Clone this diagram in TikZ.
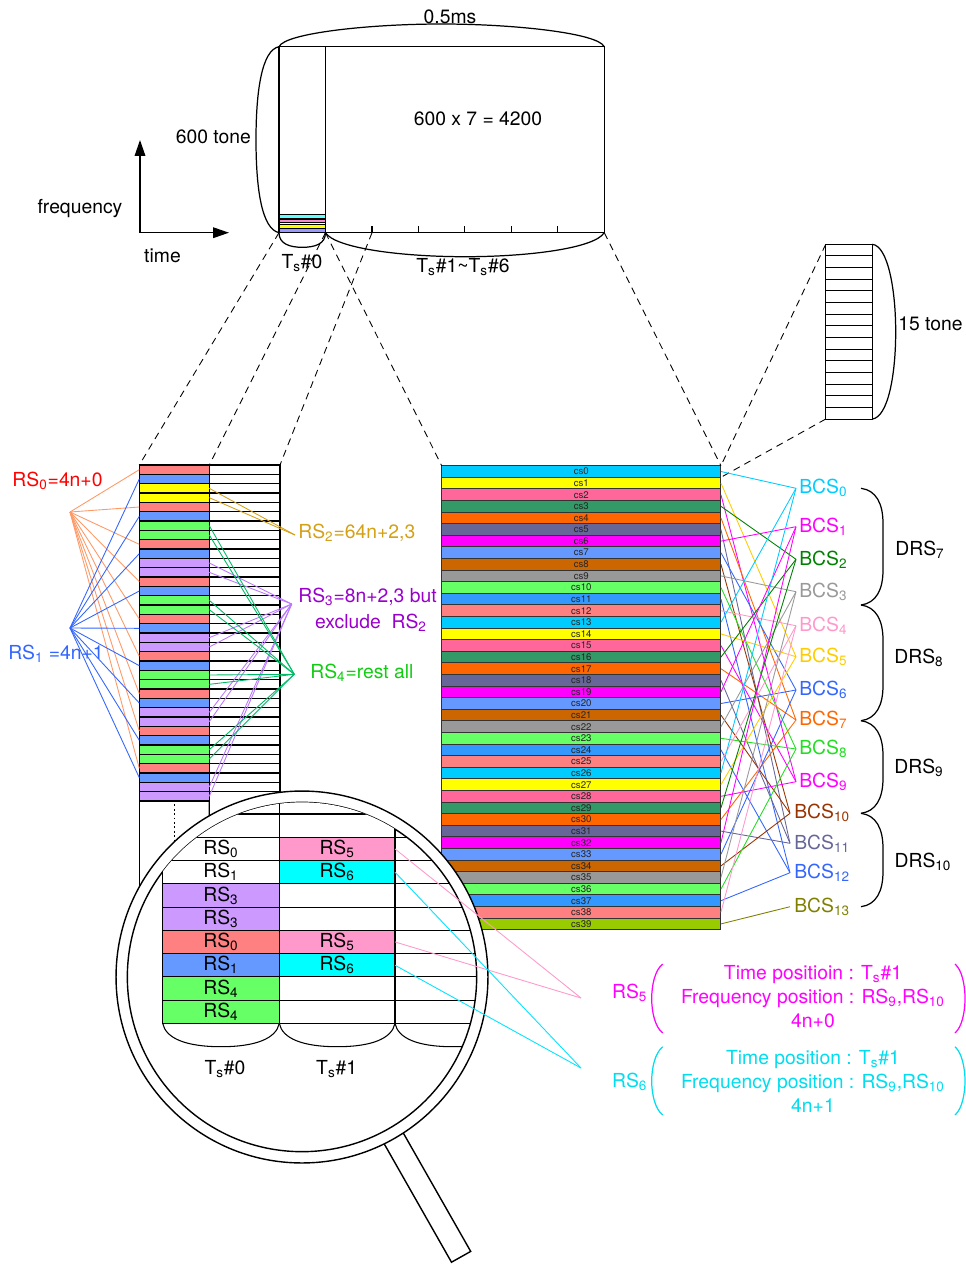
\documentclass[tikz,border=0pt]{standalone}
\usepackage{fontspec}
\setmainfont{TeX Gyre Heros}
\usetikzlibrary{arrows.meta}
\definecolor{sal}{HTML}{FF8080}
\definecolor{blu}{HTML}{6699FF}
\definecolor{yel}{HTML}{FFFF00}
\definecolor{grn}{HTML}{66FF66}
\definecolor{pur}{HTML}{CC99FF}
\definecolor{wht}{HTML}{FFFFFF}
\definecolor{pnk}{HTML}{FF99CC}
\definecolor{cyn}{HTML}{00FFFF}
\definecolor{csc0}{HTML}{00CCFF}
\definecolor{csc1}{HTML}{FFFF00}
\definecolor{csc2}{HTML}{FF6699}
\definecolor{csc3}{HTML}{339966}
\definecolor{csc4}{HTML}{FF6600}
\definecolor{csc5}{HTML}{666699}
\definecolor{csc6}{HTML}{FF00FF}
\definecolor{csc7}{HTML}{6699FF}
\definecolor{csc8}{HTML}{CC6600}
\definecolor{csc9}{HTML}{999999}
\definecolor{csc10}{HTML}{66FF66}
\definecolor{csc11}{HTML}{3399FF}
\definecolor{csc12}{HTML}{FF8080}
\definecolor{csc39}{HTML}{99CC00}
\definecolor{bcc0}{HTML}{00CCFF}
\definecolor{bcc1}{HTML}{FF00FF}
\definecolor{bcc2}{HTML}{008000}
\definecolor{bcc3}{HTML}{999999}
\definecolor{bcc4}{HTML}{FF99CC}
\definecolor{bcc5}{HTML}{FFCC00}
\definecolor{bcc6}{HTML}{3366FF}
\definecolor{bcc7}{HTML}{FF6600}
\definecolor{bcc8}{HTML}{22DD22}
\definecolor{bcc9}{HTML}{FF00FF}
\definecolor{bcc10}{HTML}{993300}
\definecolor{bcc11}{HTML}{666699}
\definecolor{bcc12}{HTML}{3366FF}
\definecolor{bcc13}{HTML}{808000}
\definecolor{rsred}{HTML}{FF0000}
\definecolor{rsblue}{HTML}{3366FF}
\definecolor{rsgold}{HTML}{D4A017}
\definecolor{rspur}{HTML}{9900CC}
\definecolor{rsgrn}{HTML}{11CC11}
\definecolor{fanor}{HTML}{FF9966}
\definecolor{fanpur}{HTML}{BB77FF}
\definecolor{fangrn}{HTML}{00BB66}
\definecolor{dmag}{HTML}{FF00FF}
\definecolor{dcyn}{HTML}{00DDEE}
\begin{document}
\begin{tikzpicture}[x=0.02cm,y=-0.02cm,font=\fontsize{11}{13}\selectfont,
 dashline/.style={dash pattern=on 4pt off 3pt, line width=0.5pt},
 lrow/.style={draw, line width=0.8pt, minimum width=1.4cm, minimum height=0.1866cm, inner sep=0pt, outer sep=0pt, anchor=north west},
 rrow/.style={lrow, minimum width=1.414cm},
 csrow/.style={draw=black!80, line width=0.6pt, minimum width=5.586cm, minimum height=0.232cm, inner sep=0pt, outer sep=0pt, anchor=north west, font=\fontsize{5.5}{6}\selectfont, text=black!85},
 tonerow/.style={draw, line width=0.6pt, minimum width=0.932cm, minimum height=0.233cm, inner sep=0pt, outer sep=0pt, anchor=north west},
 mcell/.style={draw, line width=0.6pt, minimum width=2.332cm, minimum height=0.4652cm, inner sep=0pt, outer sep=0pt, anchor=north west},
 mcell2/.style={mcell, minimum width=2.314cm},
 lbl/.style={inner sep=0pt},
 fan/.style={line width=0.5pt},
 brc/.style={line width=0.7pt}]
\useasboundingbox (0,0) rectangle (966,1265);

% ---------- top frame ----------
\node[draw, line width=0.8pt, minimum width=6.506cm, minimum height=3.72cm, inner sep=0pt, outer sep=0pt, anchor=north west] (frame) at (279,46.7) {};
\node[draw, line width=0.8pt, minimum width=0.9294cm, minimum height=3.72cm, inner sep=0pt, outer sep=0pt, anchor=north west] (ts0col) at (279,46.7) {};
\draw[line width=0.5pt, fill=cyn!60] (279,214.3) rectangle (325.5,218.3);
\draw[line width=0.5pt, fill=magenta!45] (279,219.3) rectangle (325.5,222.7);
\draw[line width=0.5pt, fill=yel] (279,224) rectangle (325.5,228);
\draw[line width=0.5pt, fill=blue!40] (279,228.7) rectangle (325.5,232.7);
\foreach \k in {1,...,5} \draw[line width=0.6pt] (325.5+46.47*\k,232.7) -- ++(0,-7);
\coordinate (tk1) at (372,232.7);

\draw[brc] (frame.north west) .. controls (285,33) and (370,24) .. (441.5,24) .. controls (513,24) and (598,33) .. (frame.north east);
\draw[brc] (frame.north west) .. controls (262,50) and (256,90) .. (256,139.7) .. controls (256,190) and (262,229) .. (frame.south west);
\draw[brc] (ts0col.south west) .. controls (279,244) and (290,247.3) .. (302.3,247.3) .. controls (315,247.3) and (325.5,244) .. (ts0col.south east);
\draw[brc] (ts0col.south east) .. controls (335,248) and (400,256.7) .. (465,256.7) .. controls (530,256.7) and (595,248) .. (frame.south east);

\node[lbl] (t05) at (450,16.7) {0.5ms};
\node[lbl] (t600) at (213.3,137) {600 tone};
\node[lbl] (t4200) at (478,118.3) {600 x 7 = 4200};
\node[lbl] (tts0) at (302,263) {T\textsubscript{s}\#0};
\node[lbl] (tts16) at (463,267) {T\textsubscript{s}\#1\textasciitilde T\textsubscript{s}\#6};

% axes
\coordinate (org) at (140,232.7);
\coordinate (ftip) at (140,140);
\coordinate (ttip) at (229,232.7);
\draw[line width=0.8pt, -{Triangle[length=9pt,width=6pt]}] (org) -- (ftip);
\draw[line width=0.8pt, -{Triangle[length=9pt,width=6pt]}] (org) -- (ttip);
\node[lbl] (tfreq) at (80,209) {frequency};
\node[lbl] (ttime) at (162.5,255.5) {time};

% ---------- left strip ----------
\foreach \c [count=\i from 0] in {sal,blu,yel,yel,sal,blu,grn,grn,sal,blu,pur,pur,sal,blu,grn,grn,sal,blu,pur,pur,sal,blu,grn,grn,sal,blu,pur,pur,sal,blu,grn,grn,sal,blu,pur,pur}
  \node[lrow, fill=\c] (L\i) at (139.3,465+9.333*\i) {};
\foreach \i in {0,...,34}
  \node[rrow] (R\i) at (209.3,465+9.333*\i) {};

\coordinate (p0) at (70,512);
\coordinate (p1) at (70,628);
\coordinate (p2) at (295,535);
\coordinate (p3) at (291.7,604);
\coordinate (p4) at (294.3,674.3);
\foreach \i in {0,4,...,32} \draw[fan, color=fanor] (p0) -- (L\i.west);
\foreach \i in {1,5,...,33} \draw[fan, color=rsblue] (p1) -- (L\i.west);
\foreach \i in {2,3} \draw[fan, color=rsgold] (L\i.east) -- (p2);
\foreach \i in {10,11,18,19,26,27,34,35} \draw[fan, color=fanpur] (L\i.east) -- (p3);
\foreach \i in {6,7,14,15,22,23,30,31} \draw[fan, color=fangrn] (L\i.east) -- (p4);

\node[lbl, text=rsred] (rs0) at (57.5,481) {RS\textsubscript{0}=4n+0};
\node[lbl, text=rsblue] (rs1) at (56,654) {RS\textsubscript{1} =4n+1};
\node[lbl, anchor=west, text=rsgold] (rs2) at (298,533) {RS\textsubscript{2}=64n+2,3};
\node[lbl, text=rspur] (rs3a) at (367.5,597) {RS\textsubscript{3}=8n+2,3 but};
\node[lbl, text=rspur] (rs3b) at (371,622.7) {exclude\ \ RS\textsubscript{2}};
\node[lbl, anchor=west, text=rsgrn] (rs4) at (310,672.7) {RS\textsubscript{4}=rest all};

% below strip
\draw[line width=0.8pt] (L35.south west) -- (139.3,905);
\draw[line width=0.8pt] (L35.south east) -- (209.3,905);
\draw[line width=0.6pt, dash pattern=on 1pt off 1.5pt] (174.3,800) -- (174.3,905);

% ---------- cs strip ----------
\foreach \i in {0,...,38}{
  \pgfmathtruncatemacro\j{mod(\i,13)}
  \node[csrow, fill=csc\j] (cs\i) at (441.7,465.7+11.6*\i) {cs\i};
}
\node[csrow, fill=csc39] (cs39) at (441.7,465.7+11.6*39) {cs39};

% 15 tone box
\foreach \i in {0,...,14}
  \node[tonerow] (tone\i) at (825.7,244.3+11.65*\i) {};
\draw[brc] (tone0.north east) .. controls (888,246) and (895.7,290) .. (895.7,331.7) .. controls (895.7,375) and (888,417) .. (tone14.south east);
\node[lbl, anchor=west] (t15) at (898,324) {15 tone};

% dashed zoom lines
\draw[dashline] (frame.south west) -- (L0.north west);
\draw[dashline] (ts0col.south east) -- (L0.north east);
\draw[dashline] (ts0col.south east) -- (cs0.north west);
\draw[dashline] (tk1) -- (R0.north east);
\draw[dashline] (frame.south east) -- (cs0.north east);
\draw[dashline] (tone0.north west) -- (cs0.north east);
\draw[dashline] (tone14.south west) -- (cs0.south east);

% BCS labels
\foreach \k/\yy in {0/488.3,1/526.7,2/559.3,3/591.7,4/625.7,5/656.7,6/690,7/720,8/749,9/781.7}{
  \node[lbl, anchor=west, text=bcc\k] (bcs\k) at (799,\yy) {BCS\textsubscript{\k}};
  \coordinate (bp\k) at (796,\yy);
}
\foreach \k/\yy in {10/813.3,11/843.3,12/872.7,13/906.7}{
  \node[lbl, anchor=west, text=bcc\k] (bcs\k) at (794,\yy) {BCS\textsubscript{\k}};
  \coordinate (bp\k) at (790,\yy);
}
\foreach \i in {0,...,38}{
  \pgfmathtruncatemacro\j{mod(\i,13)}
  \pgfmathtruncatemacro\b{{0,5,9,2,7,11,1,6,10,3,8,12,4}[\j]}
  \draw[fan, color=bcc\b] (cs\i.east) -- (bp\b);
}
\draw[fan, color=bcc13] (cs39.east) -- (bp13);

% DRS braces
\foreach \t/\b/\n/\lx/\ly in {488.3/605/7/920/550, 605/720.7/8/919/658.3, 720.7/813.3/9/919/768.3, 813.3/906.7/10/923/861.7}{
  \draw[brc] (861,\t) .. controls (876,\t+2) and (883,\t+15) .. (883,\t+35) -- (883,\b-35) .. controls (883,\b-15) and (876,\b-2) .. (861,\b);
  \node[lbl] (drs\n) at (\lx,\ly) {DRS\textsubscript{\n}};
}

% ---------- magnifier ----------
\coordinate (mcen) at (302,977);
\draw[line width=0.8pt, fill=white] (378.9,1134.5) -- (398.0,1123.7) -- (470.7,1251.4) -- (451.5,1262.2) -- cycle;
\draw[line width=0.8pt, fill=white] (mcen) circle[radius=3.72cm];
\draw[line width=0.8pt] (mcen) circle[radius=3.494cm];
\begin{scope}
  \clip (mcen) circle[radius=3.494cm];
  \foreach \c/\t [count=\r from 0] in {wht/{},wht/{},wht/RS\textsubscript{0},wht/RS\textsubscript{1},pur/RS\textsubscript{3},pur/RS\textsubscript{3},sal/RS\textsubscript{0},blu/RS\textsubscript{1},grn/RS\textsubscript{4},grn/RS\textsubscript{4}}
    \node[mcell, fill=\c] (ma\r) at (162.7,790.74+23.26*\r) {\t};
  \foreach \c/\t [count=\r from 0] in {wht/{},wht/{},pnk/RS\textsubscript{5},cyn/RS\textsubscript{6},wht/{},wht/{},pnk/RS\textsubscript{5},cyn/RS\textsubscript{6},wht/{},wht/{}}
    \node[mcell2, fill=\c] (mb\r) at (279.3,790.74+23.26*\r) {\t};
  \foreach \r in {0,...,9}
    \node[mcell2] (mk\r) at (395,790.74+23.26*\r) {};
  \draw[line width=0.6pt] (ma9.south west) .. controls +(3,15) and +(-35,0) .. (221,1046.7) .. controls +(35,0) and +(-3,15) .. (ma9.south east);
  \draw[line width=0.6pt] (mb9.south west) .. controls +(3,15) and +(-35,0) .. (337.2,1046.7) .. controls +(35,0) and +(-3,15) .. (mb9.south east);
  \draw[line width=0.6pt] (mk9.south west) .. controls +(3,15) and +(-35,0) .. (452.8,1046.7) .. controls +(35,0) and +(-3,15) .. (mk9.south east);
\end{scope}
\node[lbl] (mts0) at (225,1069) {T\textsubscript{s}\#0};
\node[lbl] (mts1) at (336.7,1069) {T\textsubscript{s}\#1};

% ---------- RS5 / RS6 description ----------
\coordinate (q5) at (581,998);
\coordinate (q6) at (581,1068);
\draw[fan, color=pnk] (mb2.east) -- (q5);
\draw[fan, color=pnk] (mb6.east) -- (q5);
\draw[fan, color=cyn!90!blue] (mb3.east) -- (q6);
\draw[fan, color=cyn!90!blue] (mb7.east) -- (q6);

\node[lbl, text=dmag] (rs5) at (629.7,992.7) {RS\textsubscript{5}};
\draw[brc, color=dmag] (662.7,964) .. controls (655,970) and (651.7,985) .. (651.7,998.5) .. controls (651.7,1012) and (655,1027) .. (662.7,1033);
\draw[brc, color=dmag] (955,964) .. controls (962,970) and (965,985) .. (965,998.5) .. controls (965,1012) and (962,1027) .. (955,1033);
\node[lbl, text=dmag, align=center, font=\fontsize{11}{13.6}\selectfont] (rs5d) at (813,996.7) {Time positioin : T\textsubscript{s}\#1\\Frequency position : RS\textsubscript{9},RS\textsubscript{10}\\4n+0};

\node[lbl, text=dcyn] (rs6) at (629.7,1081.7) {RS\textsubscript{6}};
\draw[brc, color=dcyn] (662.7,1046.7) .. controls (655,1053) and (651.7,1068) .. (651.7,1081) .. controls (651.7,1094) and (655,1109) .. (662.7,1115);
\draw[brc, color=dcyn] (955,1046.7) .. controls (962,1053) and (965,1068) .. (965,1081) .. controls (965,1094) and (962,1109) .. (955,1115);
\node[lbl, text=dcyn, align=center, font=\fontsize{11}{13.6}\selectfont] (rs6d) at (813,1081.5) {Time position : T\textsubscript{s}\#1\\Frequency position : RS\textsubscript{9},RS\textsubscript{10}\\4n+1};
\end{tikzpicture}
\end{document}
